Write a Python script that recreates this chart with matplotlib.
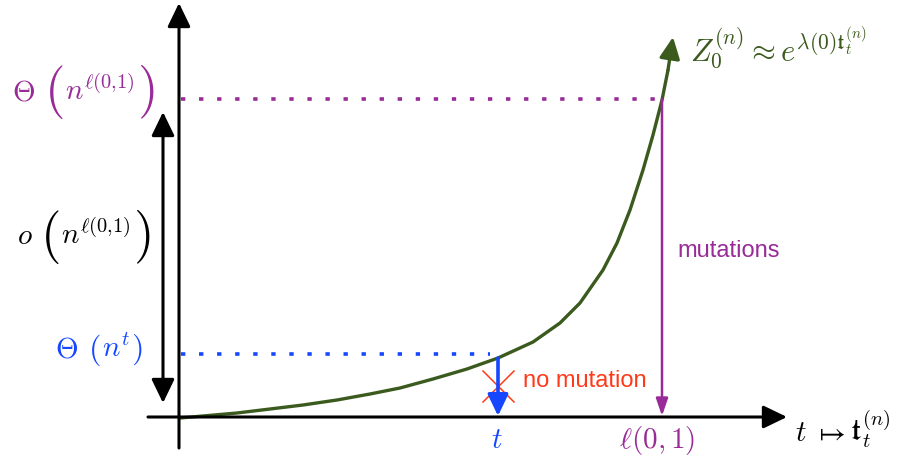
import matplotlib
matplotlib.use("Agg")
import matplotlib.pyplot as plt

plt.rcParams['mathtext.fontset'] = 'cm'
plt.rcParams['font.family'] = ['Liberation Sans', 'DejaVu Sans']

# --- data (pixel-space schematic coordinates) ---
curve_x = [180, 237, 270, 303, 337, 370, 400, 433, 467, 498, 533, 560, 580, 603, 617, 630, 643, 653, 662, 668, 673]
curve_y = [418, 413, 409, 405, 400, 394, 388, 379, 369, 358, 342, 323, 303, 270, 243, 210, 170, 135, 100, 70, 37]
t_x, t_y = 498, 358            # point (t, Theta(n^t))
l_x, l_y = 662, 99             # point (l(0,1), Theta(n^l))
axis_y0, axis_x0 = 417, 179

GREEN = '#3b5a1e'
PURPLE = '#982b98'
BLUE = '#1447ff'
RED = '#ff3a1a'

fig = plt.figure(figsize=(9.03, 4.61), dpi=100)
ax = fig.add_axes([0, 0, 1, 1])
ax.set_xlim(0, 903)
ax.set_ylim(461, 0)
ax.axis('off')
renderer = fig.canvas.get_renderer()

def arrow(x0, y0, x1, y1, color, lw, hl, hw, style='-|>'):
    ax.annotate('', xy=(x1, y1), xytext=(x0, y0),
                arrowprops=dict(arrowstyle=f'{style},head_length={hl},head_width={hw}',
                                color=color, lw=lw, shrinkA=0, shrinkB=0))

def compose(x, pieces, color):
    """pieces: list of (text, fontsize, y, va, gap_before)"""
    for s, size, y, va, gap in pieces:
        x += gap
        t = ax.text(x, y, s, color=color, fontsize=size, ha='left', va=va)
        bb = t.get_window_extent(renderer)
        x = bb.x1

# axes
arrow(148, axis_y0, 787, axis_y0, 'black', 2.2, 1.45, 0.7)
arrow(axis_x0, 448, axis_x0, 3, 'black', 2.2, 1.45, 0.7)
# double arrow on left
arrow(163, 112, 163, 403, 'black', 2.2, 1.45, 0.7, style='<|-|>')

# dotted guides
ax.plot([181, l_x - 2], [l_y, l_y], color=PURPLE, lw=2.6, linestyle=(0, (1.2, 3.8)), dash_capstyle='butt')
ax.plot([181, t_x - 8], [354, 354], color=BLUE, lw=2.6, linestyle=(0, (1.2, 3.8)), dash_capstyle='butt')

# curve with arrowhead
ax.plot(curve_x[:-1], curve_y[:-1], color=GREEN, lw=2.4, solid_capstyle='round', solid_joinstyle='round')
arrow(curve_x[-2], curve_y[-2], curve_x[-1], curve_y[-1], GREEN, 2.4, 1.3, 0.62)

# vertical arrows
arrow(l_x, l_y, l_x, axis_y0 - 1, PURPLE, 1.8, 1.05, 0.36)
arrow(t_x, t_y, t_x, axis_y0 - 1, BLUE, 2.6, 1.3, 0.62)

# red cross
ax.plot([483, 514], [371, 402], color=RED, lw=1.1)
ax.plot([483, 514], [402, 371], color=RED, lw=1.1)

# texts
ax.text(523, 381, 'no mutation', color=RED, fontsize=17, ha='left', va='center')
ax.text(677, 251, 'mutations', color=PURPLE, fontsize=17, ha='left', va='center')

ax.text(497, 440, r'$t$', color=BLUE, fontsize=21, ha='center', va='center')
ax.text(657, 440, r'$\ell(0,1)$', color=PURPLE, fontsize=21, ha='center', va='center')
compose(795, [(r'$t$', 21, 441, 'baseline', 0),
              (r'$\mapsto$', 21, 441, 'baseline', 6),
              (r'$\mathfrak{t}_t^{(n)}$', 21, 441, 'baseline', 5)], 'black')

BIG = 38
compose(12, [(r'$\Theta$', 21, 100, 'baseline', 0),
             (r'$($', BIG, 92, 'center', 9),
             (r'$n^{\ell(0{,}1)}$', 21, 100, 'baseline', 2),
             (r'$)$', BIG, 92, 'center', 2)], PURPLE)
compose(17, [(r'$o$', 21, 244, 'baseline', 0),
             (r'$($', BIG, 237, 'center', 7),
             (r'$n^{\ell(0{,}1)}$', 21, 244, 'baseline', 2),
             (r'$)$', BIG, 237, 'center', 2)], 'black')
compose(55, [(r'$\Theta$', 21, 357, 'baseline', 0),
             (r'$($', 23, 350, 'center', 10),
             (r'$n^{t}$', 21, 357, 'baseline', 1),
             (r'$)$', 23, 350, 'center', 1)], BLUE)

ax.text(690, 48, r'$Z_0^{(n)} \approx e^{\lambda(0)\mathfrak{t}_t^{(n)}}$', color=GREEN, fontsize=22,
        ha='left', va='center')

fig.savefig('out.png', dpi=100)
